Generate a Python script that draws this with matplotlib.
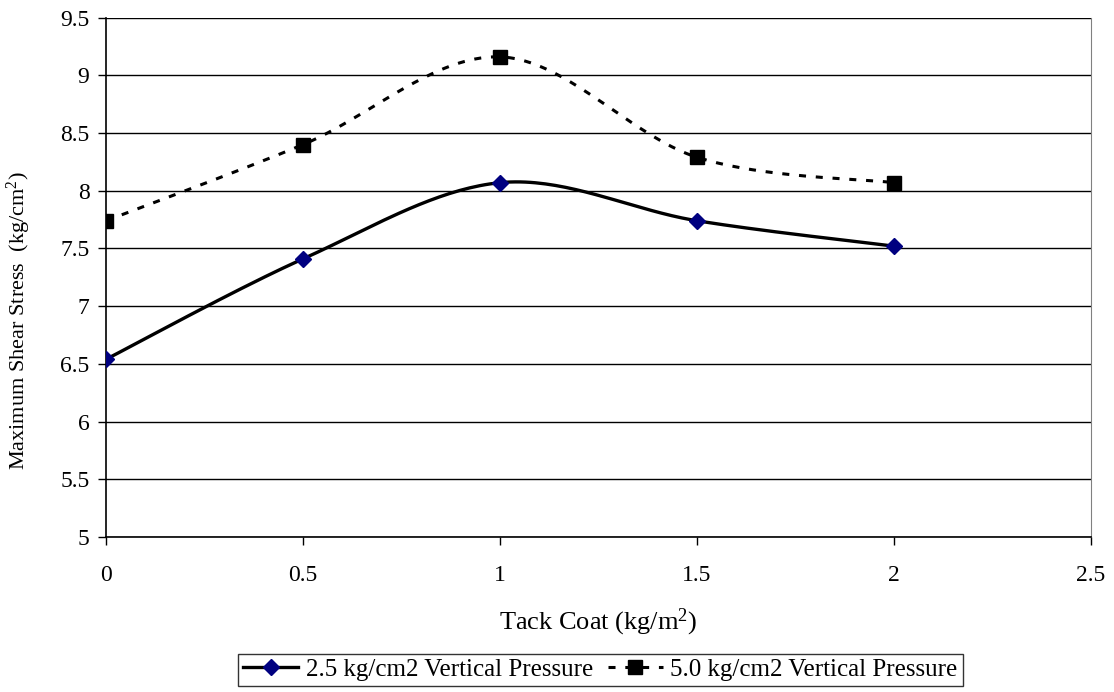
import numpy as np
import matplotlib
matplotlib.use("Agg")
from matplotlib import pyplot as plt

tack_coat = [0, 0.5, 1, 1.5, 2]
stress_25 = [6.54, 7.41, 8.07, 7.74, 7.52]
stress_50 = [7.74, 8.40, 9.16, 8.29, 8.07]
x_ticks = [0, 0.5, 1, 1.5, 2, 2.5]
x_tick_labels = ["0", "0.5", "1", "1.5", "2", "2.5"]
y_ticks = [5, 5.5, 6, 6.5, 7, 7.5, 8, 8.5, 9, 9.5]
y_tick_labels = ["5", "5.5", "6", "6.5", "7", "7.5", "8", "8.5", "9", "9.5"]

plt.rcParams['font.family'] = ['Liberation Serif', 'DejaVu Serif']
plt.rcParams['mathtext.fontset'] = 'custom'
plt.rcParams['mathtext.rm'] = 'Liberation Serif'
plt.rcParams['mathtext.default'] = 'regular'


def smooth(xs, ys, n=40):
    # Excel-like smoothing: cubic Bezier segments with Catmull-Rom control points
    xs = np.asarray(xs, float)
    ys = np.asarray(ys, float)
    px = np.concatenate([[xs[0]], xs, [xs[-1]]])
    py = np.concatenate([[ys[0]], ys, [ys[-1]]])
    out_x, out_y = [], []
    t = np.linspace(0, 1, n)
    for i in range(1, len(px) - 2):
        p0 = np.array([px[i], py[i]])
        p3 = np.array([px[i + 1], py[i + 1]])
        c1 = p0 + (p3 - np.array([px[i - 1], py[i - 1]])) / 6
        c2 = p3 - (np.array([px[i + 2], py[i + 2]]) - p0) / 6
        b = ((1 - t) ** 3)[:, None] * p0 + (3 * (1 - t) ** 2 * t)[:, None] * c1 \
            + (3 * (1 - t) * t ** 2)[:, None] * c2 + (t ** 3)[:, None] * p3
        out_x.extend(b[:, 0])
        out_y.extend(b[:, 1])
    return out_x, out_y


fig = plt.figure(figsize=(11.14, 6.92), dpi=100)
ax = fig.add_axes([0.0952, 0.224, 0.8842, 0.7505])

for yv in y_ticks:
    ax.axhline(yv, color='black', linewidth=1.0, zorder=1)

dash = (0, (2.3, 3.2))

sx, sy = smooth(tack_coat, stress_25)
ax.plot(sx, sy, color='black', linewidth=2.4, zorder=3)
ax.plot(tack_coat, stress_25, linestyle='none', marker='D', markersize=8,
        color='#000080', zorder=4)

sx, sy = smooth(tack_coat, stress_50)
ax.plot(sx, sy, color='black', linewidth=2.2, linestyle=dash, zorder=3)
ax.plot(tack_coat, stress_50, linestyle='none', marker='s', markersize=9.5,
        color='black', zorder=4)

# legend proxies
ax.plot([], [], color='black', linewidth=2.4, marker='D', markersize=8,
        markerfacecolor='#000080', markeredgecolor='#000080',
        label='2.5 kg/cm2 Vertical Pressure')
ax.plot([], [], color='black', linewidth=2.2, linestyle=dash, marker='s',
        markersize=9.5, label='5.0 kg/cm2 Vertical Pressure')

ax.set_xlim(0, 2.5)
ax.set_ylim(5, 9.5)
ax.set_xticks(x_ticks)
ax.set_xticklabels(x_tick_labels)
ax.set_yticks(y_ticks)
ax.set_yticklabels(y_tick_labels)
ax.tick_params(axis='both', direction='out', length=6, width=1, labelsize=17, color='black')
ax.tick_params(axis='x', pad=14)
ax.tick_params(axis='y', pad=6)

ax.spines['top'].set_visible(False)
ax.spines['right'].set_color('#808080')
ax.spines['left'].set_linewidth(1.2)
ax.spines['bottom'].set_linewidth(1.2)

ax.set_xlabel('Tack Coat (kg/m$^2$)', fontsize=19, labelpad=15)
ax.set_ylabel('Maximum Shear Stress  (kg/cm$^2$)', fontsize=16)
ax.yaxis.set_label_coords(-0.074, 0.417)

leg = fig.legend(loc='center', bbox_to_anchor=(0.539, 0.032), ncol=2, fontsize=18,
                 frameon=True, fancybox=False, edgecolor='black', handlelength=2.2,
                 handletextpad=0.3, columnspacing=0.6, borderpad=0.2)
leg.get_frame().set_linewidth(1.0)

fig.savefig('out.png', dpi=100)
plt.close(fig)
